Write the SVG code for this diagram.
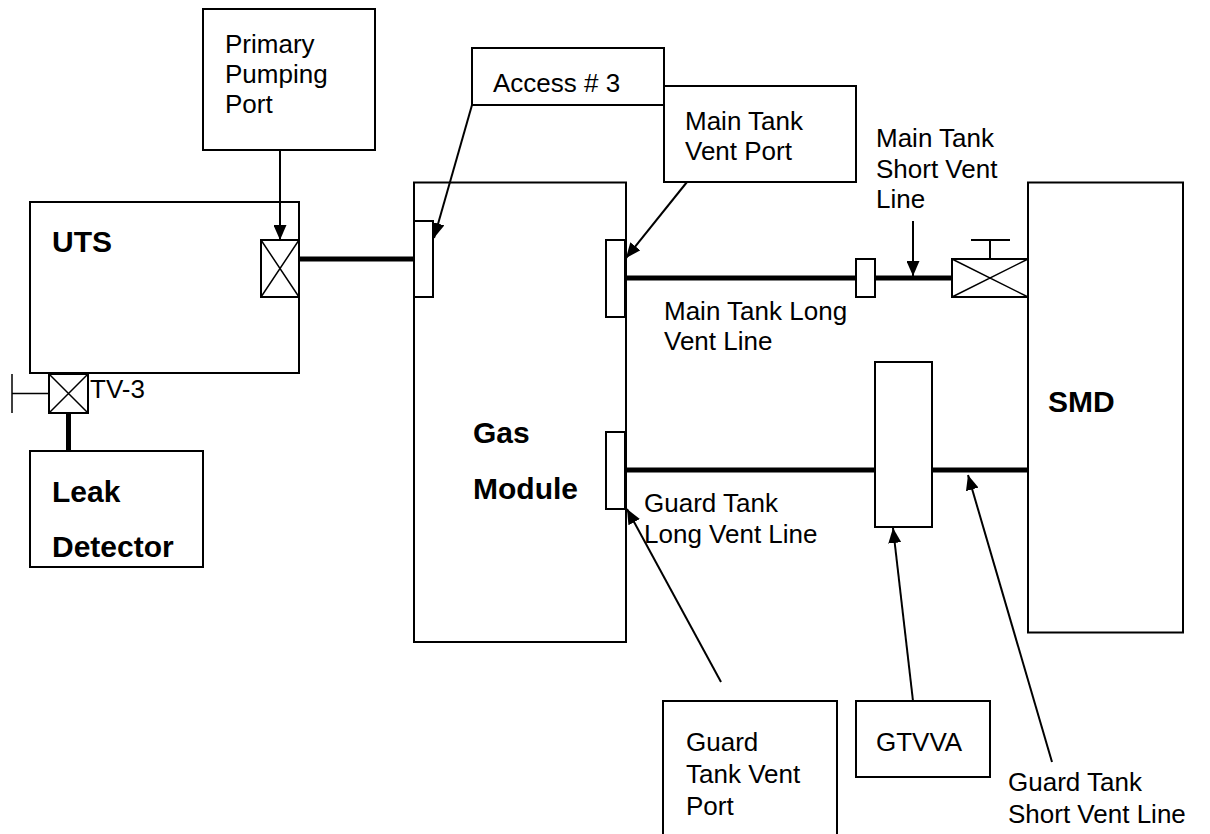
<svg xmlns="http://www.w3.org/2000/svg" width="1210" height="834" viewBox="0 0 1210 834">
<defs>
<marker id="ah" markerWidth="15" markerHeight="13" refX="15" refY="6.5" orient="auto" markerUnits="userSpaceOnUse">
<path d="M0,0 L15,6.5 L0,13 Z" fill="#000"/>
</marker>
<style>
.box{fill:#fff;stroke:#000;stroke-width:2}
.t{font-family:"Liberation Sans",Arial,sans-serif;font-size:26px;fill:#000}
.b{font-family:"Liberation Sans",Arial,sans-serif;font-size:30px;font-weight:bold;fill:#000}
.thick{stroke:#000;stroke-width:5;fill:none}
.thin{stroke:#000;stroke-width:1.5;fill:none}
.arr{stroke:#000;stroke-width:2;fill:none;marker-end:url(#ah)}
</style>
</defs>
<rect width="1210" height="834" fill="#fff"/>

<g id="primary-pumping-port">
<rect class="box" x="203" y="9" width="172" height="141"/>
<text class="t" x="225" y="53">Primary</text>
<text class="t" x="225" y="83">Pumping</text>
<text class="t" x="225" y="113">Port</text>
</g>

<g id="uts">
<rect class="box" x="30" y="202" width="269" height="171"/>
<text class="b" x="52" y="252">UTS</text>
</g>

<g id="uts-valve">
<rect class="box" x="261" y="240" width="38" height="57"/>
<path class="thin" d="M261,240 L299,297 M299,240 L261,297"/>
</g>

<g id="tv-3">
<rect class="box" x="49" y="374" width="39" height="39"/>
<path class="thin" d="M49,374 L88,413 M88,374 L49,413 M12,393.5 L49,393.5 M12,374 L12,413"/>
<text class="t" x="90" y="398">TV-3</text>
</g>

<g id="leak-detector">
<rect class="box" x="30" y="451" width="173" height="116"/>
<text class="b" x="52" y="502">Leak</text>
<text class="b" x="52" y="557">Detector</text>
</g>

<g id="gas-module">
<rect class="box" x="414" y="182.5" width="212" height="459.5"/>
<text class="b" x="473" y="443">Gas</text>
<text class="b" x="473" y="499">Module</text>
</g>

<g id="access-port">
<rect class="box" x="414" y="221" width="19" height="76"/>
</g>
<g id="main-tank-port">
<rect class="box" x="606" y="240" width="19" height="77"/>
</g>
<g id="guard-tank-port">
<rect class="box" x="606" y="432" width="19" height="77"/>
</g>

<g id="access-3">
<rect class="box" x="472" y="48" width="192" height="57"/>
<text class="t" x="493" y="92">Access # 3</text>
</g>

<g id="main-tank-vent-port">
<rect class="box" x="664" y="86" width="192" height="96"/>
<text class="t" x="685" y="130">Main Tank</text>
<text class="t" x="685" y="160">Vent Port</text>
</g>

<g id="main-tank-short-vent-line">
<text class="t" x="876" y="147">Main Tank</text>
<text class="t" x="876" y="178">Short Vent</text>
<text class="t" x="876" y="208">Line</text>
</g>

<g id="coupling">
<rect class="box" x="856" y="259" width="19" height="38"/>
</g>

<g id="sv-9">
<rect class="box" x="952" y="259" width="76" height="38"/>
<path class="thin" d="M952,259 L1028,297 M1028,259 L952,297"/>
<path class="thin" d="M990,240 L990,259 M971,240 L1010,240" style="stroke-width:2"/>
<text class="t" x="1049" y="283">SV-9</text>
</g>

<g id="main-tank-long-vent-line">
<text class="t" x="664" y="320">Main Tank Long</text>
<text class="t" x="664" y="350">Vent Line</text>
</g>

<g id="smd">
<rect class="box" x="1028" y="182.5" width="155" height="450"/>
<text class="b" x="1048" y="412">SMD</text>
</g>

<g id="gtvva-valve">
<rect class="box" x="875" y="362" width="57" height="165"/>
</g>

<g id="guard-tank-long-vent-line">
<text class="t" x="644" y="512">Guard Tank</text>
<text class="t" x="644" y="543">Long Vent Line</text>
</g>

<g id="guard-tank-vent-port">
<rect class="box" x="663" y="701" width="174" height="140"/>
<text class="t" x="686" y="751">Guard</text>
<text class="t" x="686" y="783">Tank Vent</text>
<text class="t" x="686" y="815">Port</text>
</g>

<g id="gtvva">
<rect class="box" x="856" y="701" width="134" height="76"/>
<text class="t" x="876" y="751">GTVVA</text>
</g>

<g id="guard-tank-short-vent-line">
<text class="t" x="1008" y="791">Guard Tank</text>
<text class="t" x="1008" y="823">Short Vent Line</text>
</g>

<g id="connectors">
<line class="thick" x1="300" y1="259" x2="413" y2="259"/>
<line class="thick" x1="626" y1="278" x2="855" y2="278"/>
<line class="thick" x1="876" y1="278" x2="951" y2="278"/>
<line class="thick" x1="626" y1="470" x2="874" y2="470"/>
<line class="thick" x1="933" y1="470" x2="1027" y2="470"/>
<line class="thick" x1="68.5" y1="414" x2="68.5" y2="450"/>
<line class="arr" x1="280" y1="150" x2="280" y2="240"/>
<line class="arr" x1="472" y1="105" x2="434" y2="238"/>
<line class="arr" x1="687" y1="182" x2="626" y2="258"/>
<line class="arr" x1="913" y1="221" x2="913" y2="276"/>
<line class="arr" x1="721" y1="682" x2="627" y2="509"/>
<line class="arr" x1="913" y1="701" x2="893" y2="528"/>
<line class="arr" x1="1052" y1="762" x2="968" y2="475"/>
</g>
</svg>
